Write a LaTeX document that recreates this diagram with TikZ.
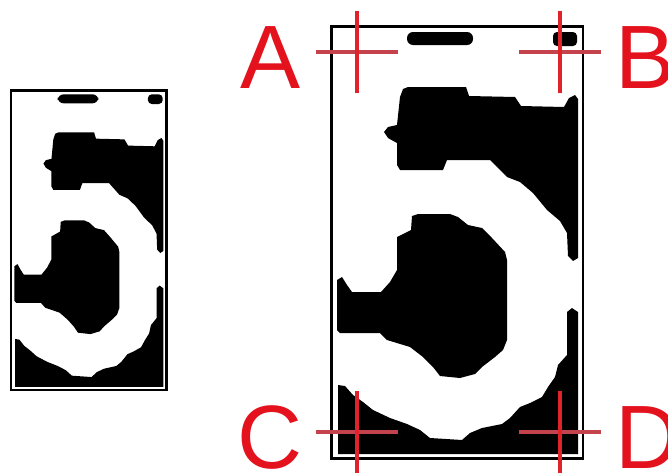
\documentclass[tikz,border=0pt]{standalone}
\usepackage{fontspec}
\setmainfont{Liberation Sans}
\definecolor{lblred}{RGB}{228,18,28}
\definecolor{crossv}{RGB}{224,34,42}
\definecolor{crossh}{RGB}{196,66,76}
\newcommand\digitink{%
 \fill[rounded corners=6pt] (407,32) rectangle (473,45);
 \fill[rounded corners=4pt] (553,32) rectangle (577,46);
 \fill (400,97) -- (403,89) -- (408,87) -- (466,87) -- (469,96) -- (515,97) -- (521,106) -- (564,107) -- (569,98) -- (575,95) -- (578,99) -- (578,258) -- (573,261) -- (568,256) -- (567,233) -- (560,221) -- (547,210) -- (533,193) -- (520,182) -- (507,177) -- (497,167) -- (490,160) -- (447,160) -- (443,170) -- (400,170) -- (397,165) -- (397,143) -- (388,138) -- (384,132) -- (388,127) -- (397,125) -- cycle;
 \fill (412,216) -- (418,214) -- (450,214) -- (458,217) -- (468,225) -- (482,228) -- (492,238) -- (505,252) -- (507,260) -- (507,340) -- (503,350) -- (495,357) -- (482,367) -- (475,374) -- (460,378) -- (440,376) -- (433,367) -- (423,357) -- (410,347) -- (387,340) -- (380,333) -- (340,333) -- (337,330) -- (337,280) -- (342,277) -- (347,285) -- (352,292) -- (381,292) -- (390,282) -- (397,270) -- (397,237) -- (405,233) -- (411,230) -- cycle;
 \fill (338,385) -- (345,386) -- (353,395) -- (363,402) -- (373,410) -- (390,418) -- (407,424) -- (420,430) -- (430,438) -- (462,440) -- (470,433) -- (482,428) -- (502,424) -- (510,418) -- (520,407) -- (530,403) -- (542,397) -- (548,387) -- (555,377) -- (558,365) -- (567,355) -- (567,312) -- (572,308) -- (578,312) -- (578,454) -- (338,454) -- cycle;
}
\begin{document}
\begin{tikzpicture}[x=1pt,y=-1pt,
  framebox/.style={draw=black,line width=2.6pt},
  hbar/.style={draw=crossh,line width=4pt},
  vbar/.style={draw=crossv,line width=4pt},
  letter/.style={text=lblred,inner sep=0pt,font=\fontsize{90}{100}\selectfont}]
\fill[white] (0,0) rectangle (668,472);
\useasboundingbox (0,0) rectangle (668,472);
% large image
\digitink
% small image (same picture, scaled)
\begin{scope}[shift={(-193.87,72.14)},xscale=0.618,yscale=0.693]
\digitink
\end{scope}
% frames
\draw[framebox] (11,90.5) rectangle (166.5,390);
\draw[framebox] (331.5,26.5) rectangle (583,458.5);
% cross centres
\coordinate (cA) at (357,52);
\coordinate (cB) at (560,52);
\coordinate (cC) at (357,432);
\coordinate (cD) at (560,432);
\foreach \c in {cA,cB,cC,cD}{
  \draw[hbar] ([xshift=-41pt]\c) -- ([xshift=41pt]\c);
  \draw[vbar] ([yshift=41pt]\c) -- ([yshift=-41pt]\c);
}
% labels
\node[letter,anchor=base] (lA) at (271,88) {A};
\node[letter,anchor=base west] (lB) at (615,88) {B};
\node[letter,anchor=base] (lC) at (270,468) {C};
\node[letter,anchor=base west] (lD) at (615,468) {D};
\end{tikzpicture}
\end{document}
